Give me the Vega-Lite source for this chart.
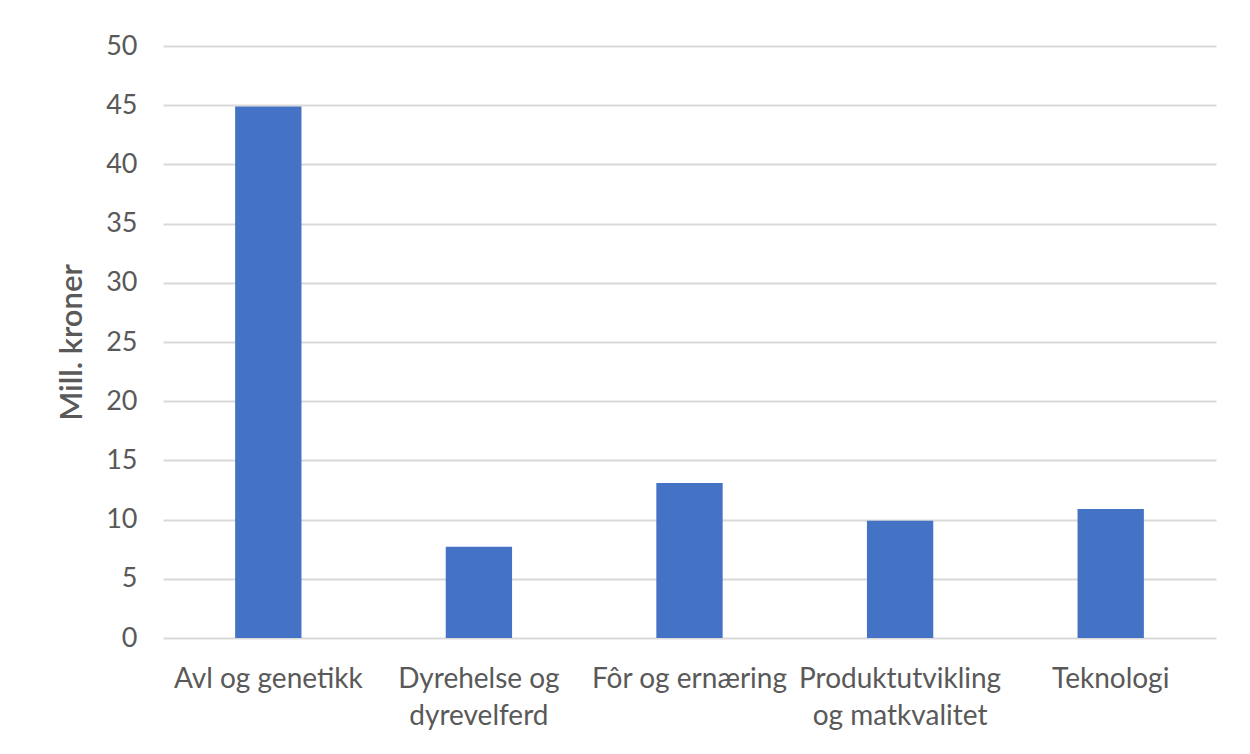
{
  "$schema": "https://vega.github.io/schema/vega-lite/v6.json",
  "width": 1053,
  "height": 592,
  "autosize": {"type": "none"},
  "padding": {"left": 163, "top": 46, "right": 34, "bottom": 116},
  "background": "white",
  "data": {
    "values": [
      {"omrade": "Avl og genetikk", "verdi": 44.9},
      {"omrade": "Dyrehelse og dyrevelferd", "verdi": 7.7},
      {"omrade": "Fôr og ernæring", "verdi": 13.1},
      {"omrade": "Produktutvikling og matkvalitet", "verdi": 9.9},
      {"omrade": "Teknologi", "verdi": 10.9}
    ]
  },
  "mark": {"type": "bar", "color": "#4472C4"},
  "encoding": {
    "x": {
      "field": "omrade",
      "type": "nominal",
      "sort": null,
      "scale": {"paddingInner": 0.685, "paddingOuter": 0.3425},
      "axis": {
        "title": null,
        "labelAngle": 0,
        "domain": false,
        "ticks": false,
        "labelPadding": 27,
        "labelFontSize": 28,
        "labelLineHeight": 37,
        "labelLimit": 0,
        "labelExpr": "datum.label == 'Dyrehelse og dyrevelferd' ? ['Dyrehelse og', 'dyrevelferd'] : datum.label == 'Produktutvikling og matkvalitet' ? ['Produktutvikling', 'og matkvalitet'] : datum.label"
      }
    },
    "y": {
      "field": "verdi",
      "type": "quantitative",
      "scale": {"domain": [0, 50], "nice": false},
      "axis": {
        "title": "Mill. kroner",
        "values": [0, 5, 10, 15, 20, 25, 30, 35, 40, 45, 50],
        "domain": false,
        "ticks": false,
        "labelPadding": 26,
        "labelFontSize": 27,
        "titleFontSize": 31,
        "titleFontWeight": 600,
        "titlePadding": 17,
        "grid": true
      }
    }
  },
  "config": {
    "view": {"stroke": null},
    "axis": {
      "labelFont": "Lato",
      "titleFont": "Lato",
      "labelColor": "#595959",
      "titleColor": "#595959",
      "gridColor": "#d9d9d9",
      "gridWidth": 2
    }
  }
}
